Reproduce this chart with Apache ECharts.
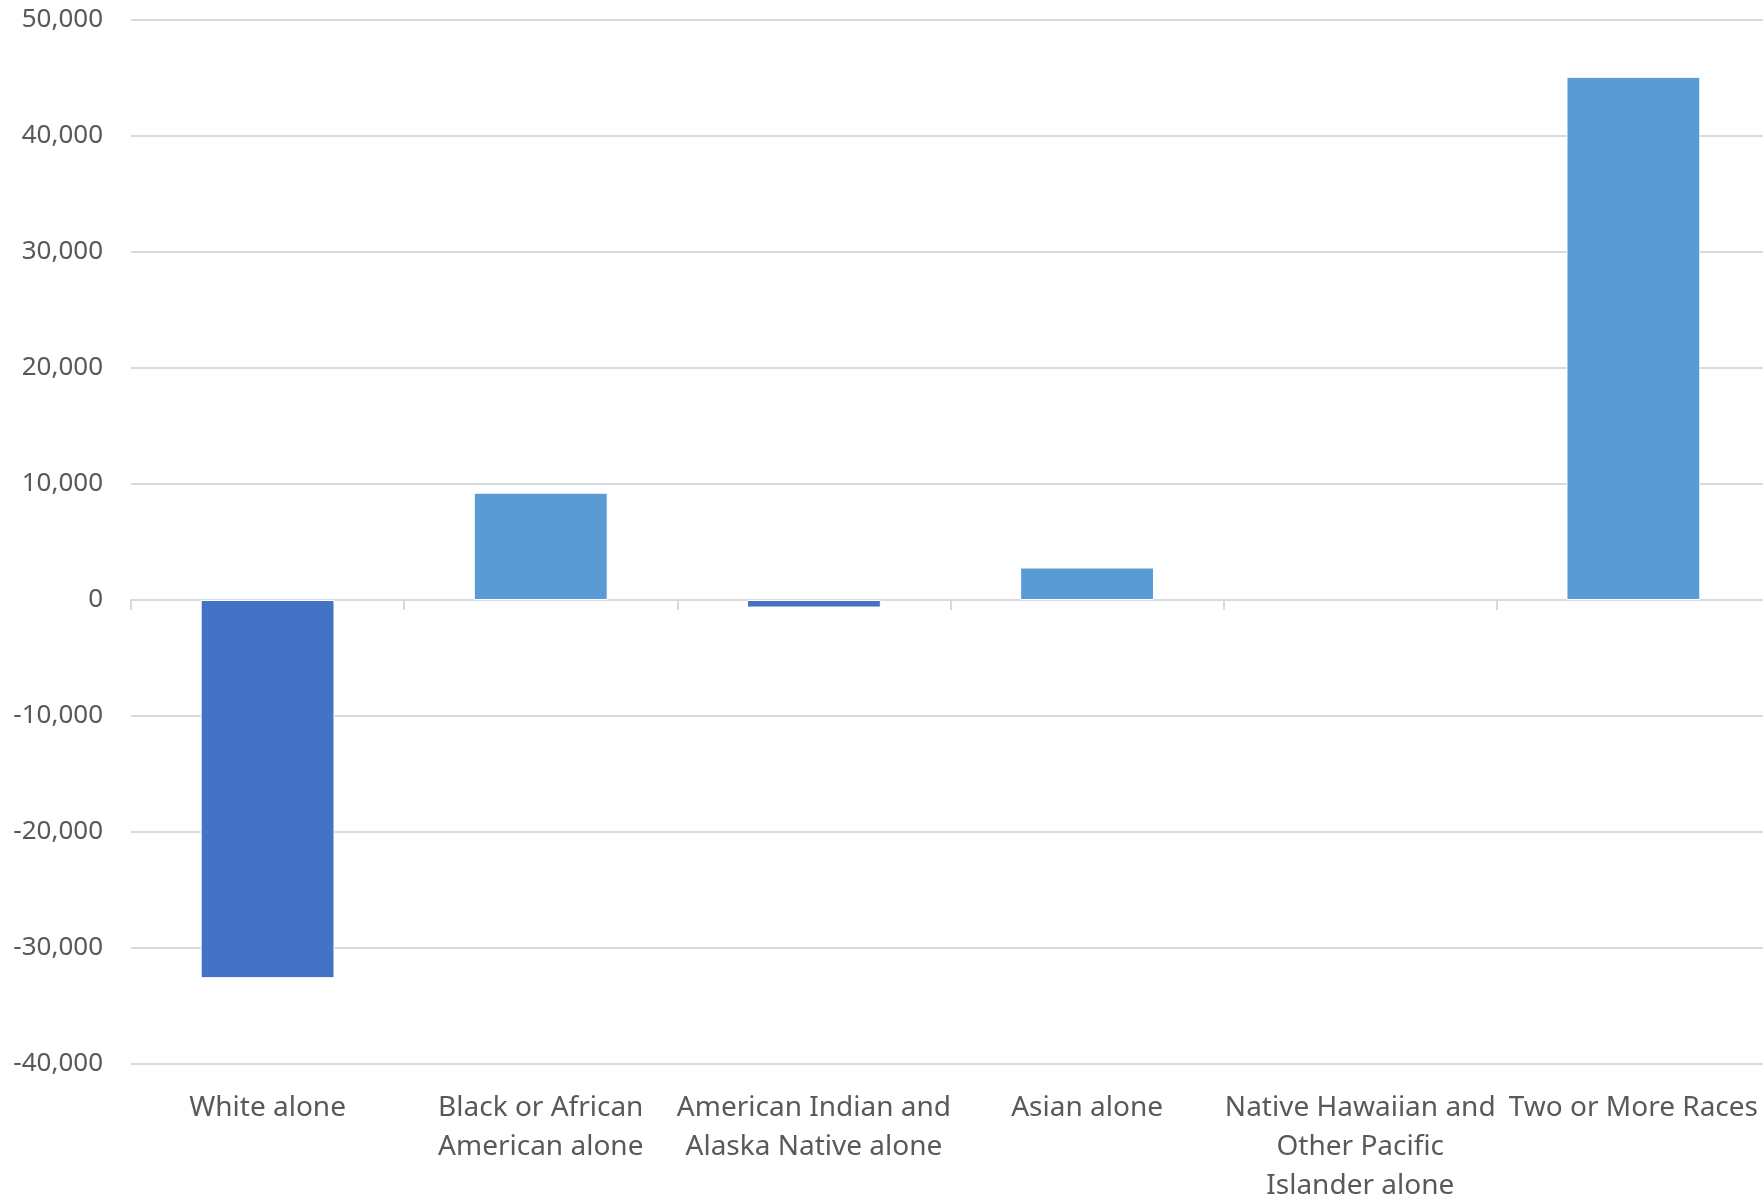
<!DOCTYPE html>
<html>
<head>
<meta charset="utf-8">
<script src="https://cdn.jsdelivr.net/npm/echarts@6/dist/echarts.min.js"></script>
<style>
    html, body { margin: 0; padding: 0; background: #fff; }
    #chart { width: 1763px; height: 1196px; }
</style>
</head>
<body>
<div id="chart"></div>
<script>
    // categories and change values
    var categories = [
        'White alone',
        'Black or African\nAmerican alone',
        'American Indian and\nAlaska Native alone',
        'Asian alone',
        'Native Hawaiian and\nOther Pacific\nIslander alone',
        'Two or More Races'
    ];
    var values = [-32600, 9250, -650, 2800, 0, 45100];

    var yMin = -40000;
    var yMax = 50000;
    var yStep = 10000;

    var posColor = '#5B9BD5';
    var negColor = '#4472C4';
    var textColor = '#595959';
    var lineColor = '#d9d9d9';

    var chart = echarts.init(document.getElementById('chart'));

    var barData = [];
    for (var i = 0; i < values.length; i++) {
        barData.push({
            value: values[i],
            itemStyle: {
                color: values[i] < 0 ? negColor : posColor,
                borderWidth: values[i] === 0 ? 0 : 1
            }
        });
    }

    var option = {
        animation: false,
        grid: {
            left: 131,
            right: -7,
            top: 20,
            bottom: 132,
            containLabel: false,
            outerBoundsMode: 'none'
        },
        xAxis: [
            {
                // labels along the bottom
                type: 'category',
                data: categories,
                position: 'bottom',
                axisLine: { show: false, onZero: false },
                axisTick: { show: false },
                axisLabel: {
                    color: textColor,
                    fontFamily: 'Noto Sans',
                    fontSize: 28,
                    lineHeight: 39,
                    margin: 25,
                    interval: 0
                }
            },
            {
                // axis line and ticks sitting on zero
                type: 'category',
                data: categories,
                position: 'top',
                axisLine: { show: true, onZero: true, lineStyle: { color: lineColor, width: 2 } },
                axisTick: { show: true, inside: true, length: 10, lineStyle: { color: lineColor, width: 2 } },
                axisLabel: { show: false }
            }
        ],
        yAxis: {
            type: 'value',
            min: yMin,
            max: yMax,
            interval: yStep,
            axisLine: { show: false },
            axisTick: { show: false },
            splitLine: { lineStyle: { color: lineColor, width: 2 } },
            axisLabel: {
                color: textColor,
                fontFamily: 'Noto Sans',
                fontSize: 26,
                margin: 28,
                formatter: function (v) {
                    return v.toLocaleString('en-US');
                }
            }
        },
        series: [
            {
                type: 'bar',
                xAxisIndex: 0,
                data: barData,
                barWidth: '49%',
                itemStyle: {
                    borderColor: '#ffffff'
                }
            }
        ]
    };

    chart.setOption(option);
</script>
</body>
</html>
